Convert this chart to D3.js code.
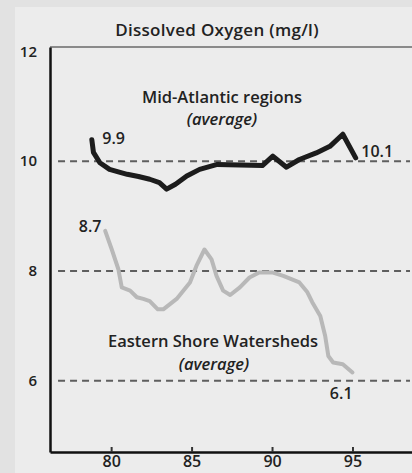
<!DOCTYPE html>
<html>
<head>
<meta charset="utf-8">
<script src="https://cdn.jsdelivr.net/npm/d3@7"></script>
<style>
  body { margin: 0; background: #e2e2e2; }
  text { font-family: "Open Sans", "Noto Sans", sans-serif; fill: #222; }
</style>
</head>
<body>
<div id="chart"></div>
<script>
const dims = { width: 412, height: 473, left: 50, right: 412, top: 47, bottom: 452 };

// Mid-Atlantic regions (average) - [year, mg/l]
const midAtlantic = [
  [78.8, 10.39], [78.9, 10.16], [79.3, 9.97], [79.9, 9.85], [80.5, 9.80], [81.0, 9.76],
  [81.7, 9.72], [82.4, 9.67], [83.0, 9.61], [83.45, 9.49], [84.0, 9.58], [84.7, 9.73],
  [85.5, 9.85], [86.6, 9.94], [88.0, 9.93], [89.4, 9.92], [90.05, 10.09], [90.9, 9.89],
  [91.7, 10.03], [92.75, 10.15], [93.6, 10.27], [94.4, 10.49], [95.2, 10.06]
];
// Eastern Shore Watersheds (average)
const easternShore = [
  [79.63, 8.73], [80.04, 8.39], [80.45, 8.03], [80.66, 7.70], [81.18, 7.64], [81.6, 7.52],
  [82.0, 7.49], [82.4, 7.45], [82.9, 7.30], [83.24, 7.30], [84.07, 7.49], [84.9, 7.79],
  [85.3, 8.09], [85.8, 8.39], [86.24, 8.21], [86.55, 7.91], [86.96, 7.64], [87.4, 7.56],
  [88.0, 7.70], [88.6, 7.88], [89.2, 7.97], [90.06, 7.97], [90.7, 7.91], [91.7, 7.79],
  [92.2, 7.61], [92.5, 7.43], [93.0, 7.18], [93.3, 6.82], [93.5, 6.45], [93.8, 6.33],
  [94.4, 6.30], [95.0, 6.15]
];
const yTicks = [6, 8, 10, 12];
const xTicks = [80, 85, 90, 95];
const dashLevels = [6, 8, 10];
const endLabels = ["9.9", "10.1", "8.7", "6.1"];

const x = d3.scaleLinear().domain([76.2, 98.7]).range([dims.left, dims.right]);
const y = d3.scaleLinear().domain([4.7, 12.08]).range([dims.bottom, dims.top]);

const svg = d3.select("#chart").append("svg")
  .attr("width", dims.width)
  .attr("height", dims.height);

svg.append("rect").attr("x", 15).attr("y", 7)
  .attr("width", dims.width - 15).attr("height", dims.height - 7)
  .attr("fill", "#ececec");

svg.append("text")
  .attr("x", 217).attr("y", 36)
  .attr("text-anchor", "middle")
  .attr("font-size", 17)
  .attr("font-weight", 600)
  .attr("letter-spacing", 0.3)
  .text("Dissolved Oxygen (mg/l)");

// top frame line
svg.append("line")
  .attr("x1", dims.left).attr("x2", dims.right)
  .attr("y1", y(12.08)).attr("y2", y(12.08))
  .attr("stroke", "#6a6a6a").attr("stroke-width", 1.5);

// dashed reference lines
svg.append("g").selectAll("line")
  .data(dashLevels)
  .join("line")
  .attr("x1", x(76.7)).attr("x2", dims.right - 2)
  .attr("y1", d => y(d)).attr("y2", d => y(d))
  .attr("stroke", "#5e5e5e").attr("stroke-width", 2)
  .attr("stroke-dasharray", "7,5");

const line = d3.line().x(d => x(d[0])).y(d => y(d[1]));

svg.append("path")
  .datum(easternShore)
  .attr("fill", "none")
  .attr("stroke", "#b8b8b8")
  .attr("stroke-width", 4)
  .attr("stroke-linejoin", "round")
  .attr("stroke-linecap", "round")
  .attr("d", line);

svg.append("path")
  .datum(midAtlantic)
  .attr("fill", "none")
  .attr("stroke", "#1c1c1c")
  .attr("stroke-width", 5)
  .attr("stroke-linejoin", "round")
  .attr("stroke-linecap", "round")
  .attr("d", line);

// axes
svg.append("g")
  .attr("transform", `translate(0,${dims.bottom})`)
  .call(d3.axisBottom(x).tickValues(xTicks).tickSizeInner(-5).tickSizeOuter(0).tickPadding(4))
  .call(g => g.select(".domain").attr("stroke", "#111").attr("stroke-width", 2.5))
  .call(g => g.selectAll(".tick line").attr("stroke", "#333").attr("stroke-width", 2))
  .call(g => g.selectAll(".tick text").attr("font-size", 16).attr("font-weight", 600)
    .attr("fill", "#222").style("font-family", "'Open Sans', sans-serif"));

svg.append("g")
  .attr("transform", `translate(${dims.left},0)`)
  .call(d3.axisLeft(y).tickValues(yTicks).tickSize(0).tickPadding(13))
  .call(g => g.select(".domain").attr("stroke", "#111").attr("stroke-width", 2.5))
  .call(g => g.selectAll(".tick text").attr("font-size", 15).attr("font-weight", 600)
    .attr("fill", "#222").style("font-family", "'Open Sans', sans-serif"));

// series names
const names = [
  { x: 222, y: 103, text: "Mid-Atlantic regions", italic: false },
  { x: 222, y: 125, text: "(average)", italic: true },
  { x: 213, y: 347, text: "Eastern Shore Watersheds", italic: false },
  { x: 214, y: 370, text: "(average)", italic: true }
];
svg.append("g").selectAll("text")
  .data(names)
  .join("text")
  .attr("x", d => d.x).attr("y", d => d.y)
  .attr("text-anchor", "middle")
  .attr("font-size", 16.5)
  .attr("font-weight", 600)
  .attr("font-style", d => d.italic ? "italic" : "normal")
  .text(d => d.text);

// end value labels, placed next to the line ends
const endPos = [
  { year: 79.45, value: 10.31, anchor: "start" },
  { year: 95.55, value: 10.08, anchor: "start" },
  { year: 79.4, value: 8.71, anchor: "end" },
  { year: 94.3, value: 5.67, anchor: "middle" }
];
svg.append("g").selectAll("text")
  .data(endLabels)
  .join("text")
  .attr("x", (d, i) => x(endPos[i].year))
  .attr("y", (d, i) => y(endPos[i].value))
  .attr("text-anchor", (d, i) => endPos[i].anchor)
  .attr("font-size", 16)
  .attr("font-weight", 600)
  .text(d => d);
</script>
</body>
</html>
